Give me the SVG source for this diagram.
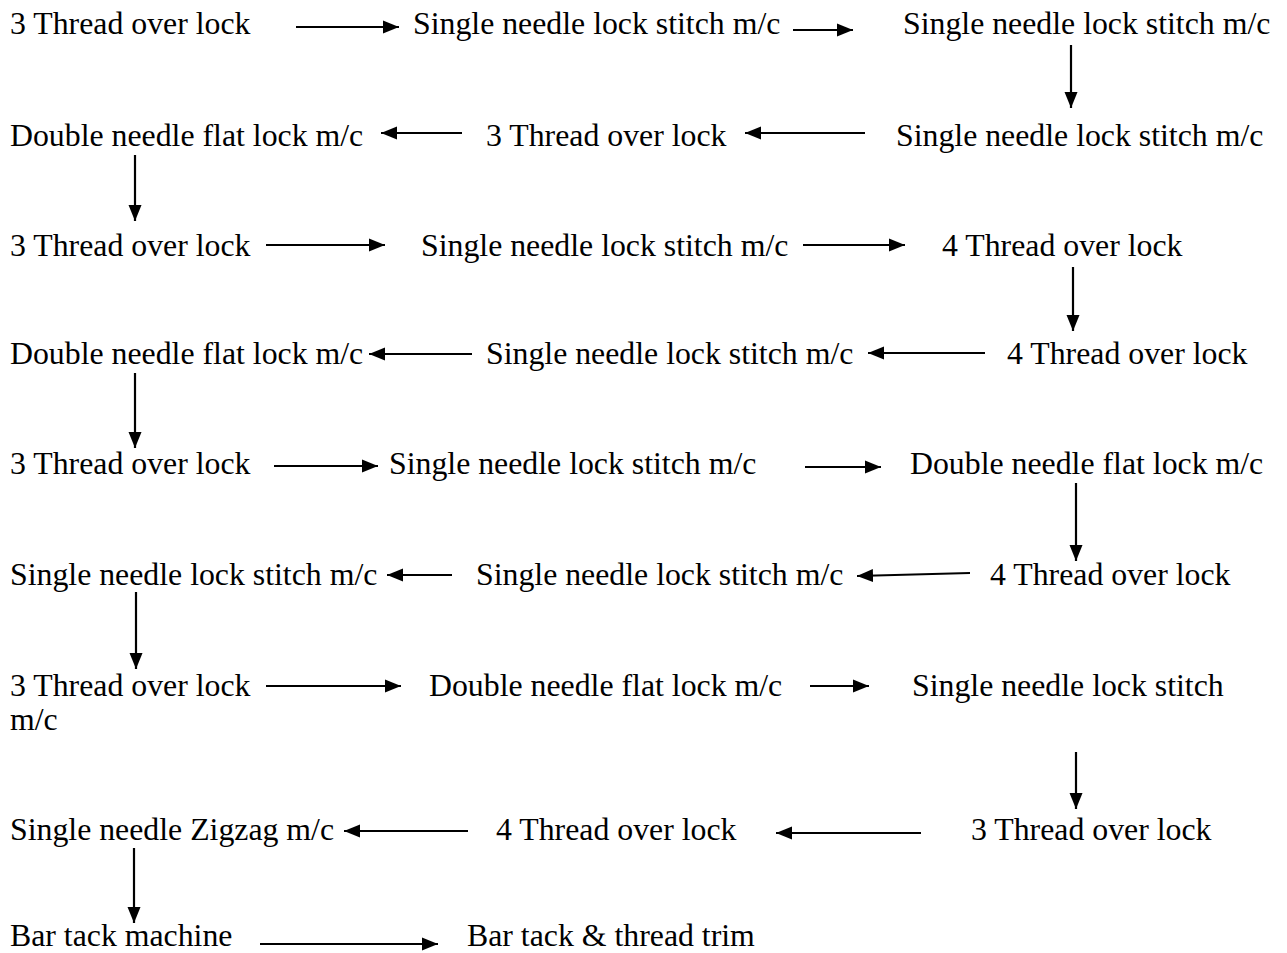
<svg xmlns="http://www.w3.org/2000/svg" width="1287" height="953" viewBox="0 0 1287 953">
<defs>
<style>
text{font-family:"Liberation Serif","Times New Roman",serif;font-size:31.8px;fill:#000}
.c line{stroke:#000;stroke-width:2.2;marker-end:url(#ah)}
</style>
<marker id="ah" markerUnits="userSpaceOnUse" markerWidth="17" markerHeight="14" refX="16" refY="7" orient="auto"><path d="M0,0.5 L16,7 L0,13.5 z" fill="#000"/></marker>
</defs>
<rect width="1287" height="953" fill="#fff"/>
<g id="n1"><text x="10" y="34">3 Thread over lock</text></g>
<g id="n2"><text x="413" y="34">Single needle lock stitch m/c</text></g>
<g id="n3"><text x="903" y="34">Single needle lock stitch m/c</text></g>
<g id="n4"><text x="896" y="146">Single needle lock stitch m/c</text></g>
<g id="n5"><text x="486" y="146">3 Thread over lock</text></g>
<g id="n6"><text x="10" y="146">Double needle flat lock m/c</text></g>
<g id="n7"><text x="10" y="256">3 Thread over lock</text></g>
<g id="n8"><text x="421" y="256">Single needle lock stitch m/c</text></g>
<g id="n9"><text x="942" y="256">4 Thread over lock</text></g>
<g id="n10"><text x="1007" y="364">4 Thread over lock</text></g>
<g id="n11"><text x="486" y="364">Single needle lock stitch m/c</text></g>
<g id="n12"><text x="10" y="364">Double needle flat lock m/c</text></g>
<g id="n13"><text x="10" y="474">3 Thread over lock</text></g>
<g id="n14"><text x="389" y="474">Single needle lock stitch m/c</text></g>
<g id="n15"><text x="910" y="474">Double needle flat lock m/c</text></g>
<g id="n16"><text x="990" y="585">4 Thread over lock</text></g>
<g id="n17"><text x="476" y="585">Single needle lock stitch m/c</text></g>
<g id="n18"><text x="10" y="585">Single needle lock stitch m/c</text></g>
<g id="n19"><text x="10" y="696">3 Thread over lock</text></g>
<g id="n20"><text x="429" y="696">Double needle flat lock m/c</text></g>
<g id="n21"><text x="912" y="696">Single needle lock stitch</text><text x="10" y="730">m/c</text></g>
<g id="n22"><text x="971" y="840">3 Thread over lock</text></g>
<g id="n23"><text x="496" y="840">4 Thread over lock</text></g>
<g id="n24"><text x="10" y="840">Single needle Zigzag m/c</text></g>
<g id="n25"><text x="10" y="946">Bar tack machine</text></g>
<g id="n26"><text x="467" y="946">Bar tack &amp; thread trim</text></g>
<g id="connectors" class="c">
<line x1="296" y1="27" x2="399" y2="27"/>
<line x1="793" y1="30" x2="853" y2="30"/>
<line x1="1071" y1="45" x2="1071" y2="108"/>
<line x1="865" y1="133" x2="745" y2="133"/>
<line x1="462" y1="133" x2="381" y2="133"/>
<line x1="135" y1="155" x2="135" y2="221"/>
<line x1="266" y1="245" x2="385" y2="245"/>
<line x1="803" y1="245" x2="905" y2="245"/>
<line x1="1073" y1="267" x2="1073" y2="331"/>
<line x1="985" y1="353" x2="868" y2="353"/>
<line x1="472" y1="354" x2="369" y2="354"/>
<line x1="135" y1="373" x2="135" y2="448"/>
<line x1="274" y1="466" x2="378" y2="466"/>
<line x1="805" y1="467" x2="881" y2="467"/>
<line x1="1076" y1="483" x2="1076" y2="561"/>
<line x1="970" y1="573" x2="857" y2="576"/>
<line x1="452" y1="575" x2="387" y2="575"/>
<line x1="136" y1="592" x2="136" y2="669"/>
<line x1="266" y1="686" x2="401" y2="686"/>
<line x1="810" y1="686" x2="869" y2="686"/>
<line x1="1076" y1="752" x2="1076" y2="809"/>
<line x1="921" y1="833" x2="776" y2="833"/>
<line x1="468" y1="831" x2="344" y2="831"/>
<line x1="134" y1="848" x2="134" y2="923"/>
<line x1="260" y1="944" x2="438" y2="944"/>
</g>
</svg>
